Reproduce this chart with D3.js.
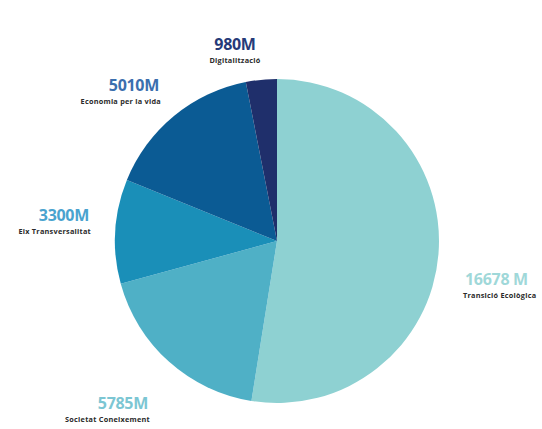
<!DOCTYPE html>
<html><head><meta charset="utf-8">
<script src="https://cdn.jsdelivr.net/npm/d3@7"></script>
<style>body{margin:0;background:#fff}svg{display:block}</style>
</head><body>
<script>
const categories = ["Transició Ecològica","Societat Coneixement","Eix Transversalitat","Economia per la vida","Digitalització"];
const values = [16678, 5785, 3300, 5010, 980];
const valueLabels = ["16678 M","5785M","3300M","5010M","980M"];
const colors = ["#8ed1d2","#4fb0c6","#1a8fb8","#0b5b94","#1f2f6b"];
const labelColors = ["#9fd8d9","#7cc6d3","#4aa3cf","#3b6fae","#263a78"];

const W = 542, H = 429;
const cx = 277, cy = 241, R = 162;
const svg = d3.select("body").append("svg").attr("width", W).attr("height", H);
const data = categories.map((c,i)=>({cat:c, v:values[i], lab:valueLabels[i], col:colors[i], lc:labelColors[i]}));
const pie = d3.pie().value(d=>d.v).sort(null);
const arc = d3.arc().innerRadius(0).outerRadius(R);
const arcs = pie(data);
svg.append("g").attr("transform",`translate(${cx},${cy})`)
  .selectAll("path").data(arcs).join("path")
  .attr("d", arc).attr("fill", d=>d.data.col);

// label placement per category
const labelPos = [
  {x:465, y:285, a:"start", dy:13},
  {x:148, y:409, a:"end",   dy:13},
  {x:89,  y:221, a:"end",   dy:13},
  {x:159, y:91,  a:"end",   dy:13},
  {x:235, y:50,  a:"middle",dy:13}
];
const lg = svg.append("g").style("font-family","'Open Sans', Lato, sans-serif");
data.forEach((d,i)=>{
  const p = labelPos[i];
  lg.append("text").attr("x",p.x).attr("y",p.y).attr("text-anchor",p.a)
    .attr("fill",d.lc).style("font-size","16px").style("font-weight","700")
    .style("letter-spacing","-0.3px")
    .text(d.lab);
  lg.append("text").attr("x",p.x + (p.a==="start"?-2:(p.a==="end"?2:0))).attr("y",p.y+p.dy).attr("text-anchor",p.a)
    .attr("fill","#2b2b2b").style("font-size","7.3px").style("font-weight","700")
    .style("letter-spacing","0.25px")
    .text(d.cat);
});
</script>
</body></html>
